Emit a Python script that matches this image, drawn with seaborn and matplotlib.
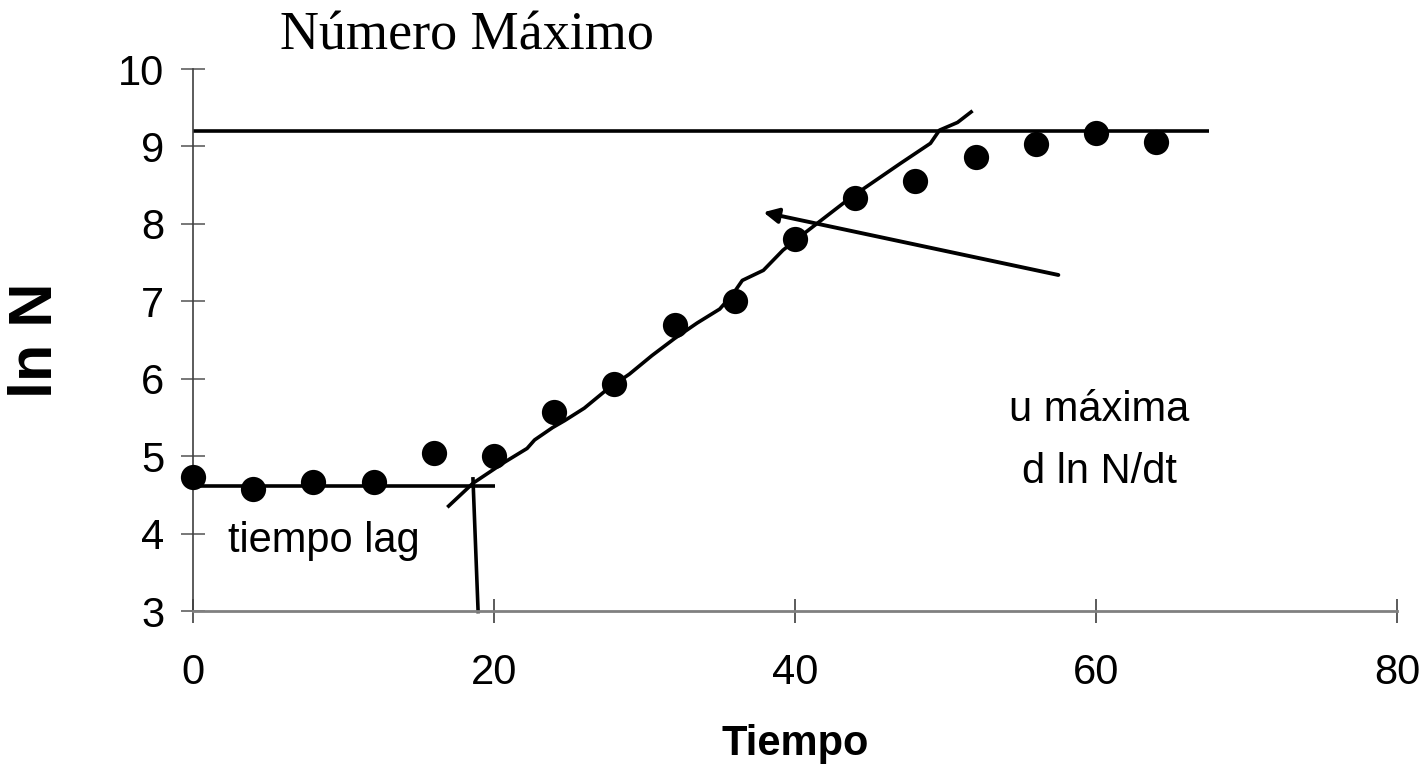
import matplotlib
matplotlib.use("Agg")
import matplotlib.pyplot as plt
import seaborn as sns
import pandas as pd

# Measured growth curve
tiempo = [0, 4, 8, 12, 16, 20, 24, 28, 32, 36, 40, 44, 48, 52, 56, 60, 64]
ln_n = [4.73, 4.57, 4.67, 4.67, 5.04, 5.00, 5.57, 5.93, 6.69, 7.01,
        7.80, 8.33, 8.55, 8.86, 9.03, 9.18, 9.06]

# Hand-traced line of maximum growth rate
ajuste_t = [16.9, 18.6, 20.6, 22.2, 22.7, 23.9, 24.7, 26.0, 27.5, 29.0, 30.5,
            32.0, 33.5, 35.0, 35.9, 36.5, 37.9, 39.2, 40.3, 43.7, 47.0,
            49.0, 49.6, 50.8, 51.8]
ajuste_ln = [4.34, 4.65, 4.91, 5.10, 5.21, 5.37, 5.46, 5.62, 5.86, 6.06, 6.30,
             6.52, 6.72, 6.90, 7.10, 7.27, 7.40, 7.66, 7.83, 8.34, 8.78,
             9.04, 9.21, 9.31, 9.46]

# Reference levels
nivel_max = 9.2
nivel_max_t = [0, 67.5]
nivel_ini = 4.61
nivel_ini_t = [0, 20.1]

# Lag time marker
lag_t = [18.6, 18.95]
lag_ln = [4.73, 2.97]

# Arrow pointing at the slope
flecha_desde = (57.5, 7.34)
flecha_hasta = (37.9, 8.15)

x_ticks = [0, 20, 40, 60, 80]
y_ticks = [3, 4, 5, 6, 7, 8, 9, 10]

sns.set_style("white")
plt.rcParams["font.family"] = ["Liberation Sans", "DejaVu Sans"]
plt.rcParams["text.color"] = "black"
plt.rcParams["axes.labelcolor"] = "black"

fig = plt.figure(figsize=(14.21, 7.66), dpi=100)
ax = fig.add_axes([0.1358, 0.2023, 0.8473, 0.7076])

df = pd.DataFrame({"Tiempo": tiempo, "lnN": ln_n})
df_fit = pd.DataFrame({"t": ajuste_t, "ln": ajuste_ln})

lw = 2.6
sns.lineplot(x=nivel_max_t, y=[nivel_max, nivel_max], ax=ax, color="black",
             linewidth=lw)
sns.lineplot(x=nivel_ini_t, y=[nivel_ini, nivel_ini], ax=ax, color="black",
             linewidth=lw)
sns.lineplot(data=df_fit, x="t", y="ln", sort=False, estimator=None, ax=ax,
             color="black", linewidth=lw)
sns.lineplot(x=lag_t, y=lag_ln, sort=False, estimator=None, ax=ax,
             color="black", linewidth=lw)
for ln in ax.lines:
    ln.set_clip_on(False)
    ln.set_solid_capstyle("butt")

sns.scatterplot(data=df, x="Tiempo", y="lnN", ax=ax, color="black", s=330,
                edgecolor="black", linewidth=0, zorder=5, clip_on=False)

ax.annotate("", xy=flecha_hasta, xytext=flecha_desde,
            arrowprops=dict(arrowstyle="-|>,head_length=0.9,head_width=0.45",
                            color="black", lw=2.8, shrinkA=0, shrinkB=0))

ax.set_xlim(0, 80)
ax.set_ylim(3, 10)
ax.set_xticks(x_ticks)
ax.set_yticks(y_ticks)
ax.set_xticklabels([str(v) for v in x_ticks])
ax.set_yticklabels([str(v) for v in y_ticks])

for side in ("top", "right"):
    ax.spines[side].set_visible(False)
ax.spines["left"].set_color("#404040")
ax.spines["left"].set_linewidth(1.2)
ax.spines["bottom"].set_color("#808080")
ax.spines["bottom"].set_linewidth(2.0)

ax.tick_params(axis="y", direction="inout", length=17, width=1.2,
               color="#606060", labelcolor="black", labelsize=30, pad=12,
               left=True)
ax.tick_params(axis="x", direction="inout", length=17, width=1.2,
               color="#404040", labelcolor="black", labelsize=30, pad=22,
               bottom=True)

ax.set_xlabel("Tiempo", fontsize=30, fontweight="bold", labelpad=22)
ax.set_ylabel("ln N", fontsize=44, fontweight="bold", labelpad=38)

ax.text(2.3, 3.76, "tiempo lag", fontsize=30, ha="left", va="baseline")
ax.text(60.2, 5.45, "u máxima", fontsize=30, ha="center", va="baseline")
ax.text(60.2, 4.66, "d ln N/dt", fontsize=30, ha="center", va="baseline")

fig.text(0.197, 0.936, "Número Máximo", fontsize=39,
         family=["Liberation Serif", "DejaVu Serif"], ha="left", va="baseline")

fig.savefig("out.png", dpi=100, facecolor="white")
